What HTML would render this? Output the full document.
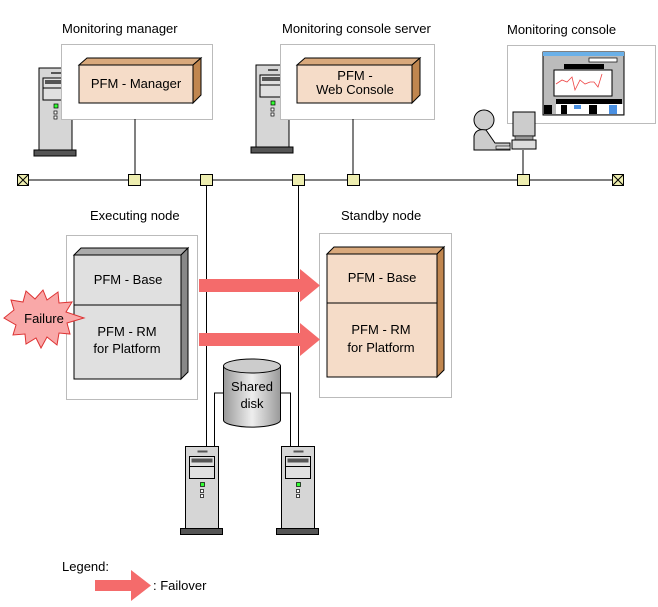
<!DOCTYPE html>
<html><head><meta charset="utf-8"><style>
html,body{margin:0;padding:0;background:#fff;width:658px;height:607px;overflow:hidden}
text{font-family:"Liberation Sans",sans-serif;font-size:13px;fill:#000}
</style></head><body>
<svg width="658" height="607" viewBox="0 0 658 607" xmlns="http://www.w3.org/2000/svg">
<defs>
<g id="tower">
<rect x="0" y="0" width="33" height="82" fill="#d6d6d6" stroke="#000"/>
<line x1="12" y1="5" x2="22" y2="5" stroke="#555" stroke-width="2"/>
<rect x="4" y="10" width="25" height="22" fill="#e0e0e0" stroke="#000"/>
<rect x="6" y="12" width="21" height="4" fill="#555"/>
<line x1="4" y1="20" x2="29" y2="20" stroke="#000"/>
<rect x="15" y="36" width="4" height="4" fill="#3f3" stroke="#000" stroke-width="0.7"/>
<rect x="15" y="43" width="3" height="3" fill="#fff" stroke="#000" stroke-width="0.7"/>
<rect x="15" y="48" width="3" height="3" fill="#fff" stroke="#000" stroke-width="0.7"/>
<rect x="-5" y="82" width="42" height="6" fill="#555" stroke="#000"/>
</g>
<linearGradient id="cyl" x1="0" x2="1"><stop offset="0" stop-color="#999"/><stop offset="0.5" stop-color="#eee"/><stop offset="1" stop-color="#999"/></linearGradient>
</defs>

<!-- titles -->
<text x="62" y="33">Monitoring manager</text>
<text x="282" y="33">Monitoring console server</text>
<text x="507" y="34">Monitoring console</text>

<!-- towers top -->
<use href="#tower" x="39" y="68"/>
<use href="#tower" x="256" y="65"/>

<!-- manager box -->
<rect x="61.5" y="44.5" width="151" height="75" fill="#fff" stroke="#bbb"/>
<polygon points="79,65 87,58 201,58 193,65" fill="#d9a97c" stroke="#000"/>
<polygon points="193,65 201,58 201,95 193,103" fill="#c0864f" stroke="#000"/>
<rect x="79" y="65" width="114" height="38" fill="#f5dcc8" stroke="#000"/>
<text x="136" y="88" text-anchor="middle">PFM - Manager</text>

<!-- console server box -->
<rect x="280.5" y="44.5" width="154" height="75" fill="#fff" stroke="#bbb"/>
<polygon points="297,65 305,58 420,58 412,65" fill="#d9a97c" stroke="#000"/>
<polygon points="412,65 420,58 420,95 412,103" fill="#c0864f" stroke="#000"/>
<rect x="297" y="65" width="115" height="38" fill="#f5dcc8" stroke="#000"/>
<text x="355" y="80" text-anchor="middle">PFM -</text>
<text x="355" y="94" text-anchor="middle">Web Console</text>

<!-- monitoring console box -->
<rect x="507.5" y="45.5" width="148" height="78" fill="#fff" stroke="#bbb"/>
<rect x="543" y="52" width="81" height="63" fill="#bbb" stroke="#000"/>
<rect x="543" y="52" width="81" height="4" fill="#6ab0e8"/>
<rect x="564" y="64" width="40" height="5" fill="#000"/>
<rect x="589" y="58" width="28" height="4" fill="#fff" stroke="#000" stroke-width="0.7"/>
<rect x="554" y="70" width="58" height="26" fill="#fff" stroke="#000"/>
<polyline points="556,84 562,80 567,82 572,77 575,90 580,80 585,84 590,82 594,82 598,87 602,74" fill="none" stroke="#e44" stroke-width="0.8"/>
<rect x="556" y="99" width="66" height="5" fill="#000"/>
<rect x="556" y="104" width="67" height="10" fill="#fff"/>
<rect x="544" y="105" width="8" height="9" fill="#000"/>
<rect x="561" y="105" width="6" height="9" fill="#000"/>
<rect x="589" y="105" width="8" height="9" fill="#000"/>
<rect x="574" y="105" width="7" height="4" fill="#4a90e2"/>
<rect x="609" y="105" width="8" height="9" fill="#4a90e2"/>
<!-- person -->
<circle cx="484" cy="120" r="10" fill="#ccc" stroke="#000"/>
<path d="M474,150 L474,136 Q476,128 486,130 L495,143 L510,143 L510,150 Z" fill="#ccc" stroke="#000"/>
<!-- computer -->
<rect x="513" y="112" width="22" height="24" fill="#ccc" stroke="#000"/>
<rect x="515" y="136" width="18" height="4" fill="#999" stroke="#000" stroke-width="0.6"/>
<rect x="512" y="140" width="24" height="9" fill="#ddd" stroke="#000"/>
<rect x="496" y="146" width="14" height="3" fill="#ddd" stroke="#000" stroke-width="0.6"/>

<!-- network -->
<g stroke="#000" stroke-width="1">
<line x1="22" y1="180" x2="618" y2="180"/>
<line x1="135" y1="119" x2="135" y2="180"/>
<line x1="353" y1="119" x2="353" y2="180"/>
<line x1="523" y1="150" x2="523" y2="180"/>
<line x1="206.5" y1="180" x2="206.5" y2="447"/>
<line x1="298.5" y1="180" x2="298.5" y2="447"/>
<polyline points="223,393 214.5,393 214.5,447" fill="none"/>
<polyline points="280,393 290.5,393 290.5,447" fill="none"/>
</g>
<g fill="#eeeeb0" stroke="#000">
<rect x="17.5" y="174.5" width="11" height="11"/>
<rect x="128.5" y="174.5" width="12" height="11"/>
<rect x="200.5" y="174.5" width="12" height="11"/>
<rect x="292.5" y="174.5" width="12" height="11"/>
<rect x="347.5" y="174.5" width="12" height="11"/>
<rect x="517.5" y="174.5" width="12" height="11"/>
<rect x="612.5" y="174.5" width="11" height="11"/>
</g>
<path d="M17.5,174.5 L28.5,185.5 M28.5,174.5 L17.5,185.5 M612.5,174.5 L623.5,185.5 M623.5,174.5 L612.5,185.5" stroke="#000"/>

<!-- node labels -->
<text x="90" y="220">Executing node</text>
<text x="341" y="220">Standby node</text>

<!-- executing node -->
<rect x="66.5" y="235.5" width="131" height="164" fill="#fff" stroke="#bbb"/>
<polygon points="74,255 81,248 188,248 181,255" fill="#aaa" stroke="#000"/>
<polygon points="181,255 188,248 188,372 181,379" fill="#888" stroke="#000"/>
<rect x="74" y="255" width="107" height="124" fill="#e0e0e0" stroke="#000"/>
<line x1="74" y1="305" x2="181" y2="305" stroke="#000"/>
<text x="128" y="284" text-anchor="middle">PFM - Base</text>
<text x="127" y="336" text-anchor="middle">PFM - RM</text>
<text x="127" y="353" text-anchor="middle">for Platform</text>

<!-- standby node -->
<rect x="319.5" y="233.5" width="132" height="164" fill="#fff" stroke="#bbb"/>
<polygon points="327,254 334,247 444,247 437,254" fill="#d9a97c" stroke="#000"/>
<polygon points="437,254 444,247 444,370 437,377" fill="#c0864f" stroke="#000"/>
<rect x="327" y="254" width="110" height="123" fill="#f5dcc8" stroke="#000"/>
<line x1="327" y1="303" x2="437" y2="303" stroke="#000"/>
<text x="382" y="282" text-anchor="middle">PFM - Base</text>
<text x="381" y="334" text-anchor="middle">PFM - RM</text>
<text x="381" y="352" text-anchor="middle">for Platform</text>

<!-- failover arrows -->
<polygon points="199,279 300,279 300,269 320,285.5 300,302 300,292 199,292" fill="#f46b6b"/>
<polygon points="199,333 300,333 300,323 320,339.5 300,356 300,346 199,346" fill="#f46b6b"/>

<!-- failure star -->
<polygon points="4,318 14,310 11,300 23,302 26,291 35,299 43,290 47,300 58,292 59,303 72,302 66,312 84,318 67,323 70,334 59,333 57,345 47,337 41,348 36,338 26,344 25,334 13,335 16,325" fill="#f9a8a8" stroke="#d33"/>
<text x="44" y="323" text-anchor="middle">Failure</text>

<!-- shared disk -->
<path d="M223.5,366 L223.5,420 A28,7 0 0 0 280.5,420 L280.5,366" fill="url(#cyl)" stroke="#000"/>
<ellipse cx="252" cy="366" rx="28.5" ry="7" fill="#ccc" stroke="#000"/>
<text x="252" y="391" text-anchor="middle">Shared</text>
<text x="252" y="408" text-anchor="middle">disk</text>

<!-- lower towers -->
<use href="#tower" x="185.5" y="446.5"/>
<use href="#tower" x="281.5" y="446.5"/>

<!-- legend -->
<text x="62" y="571">Legend:</text>
<polygon points="95,580 131,580 131,570 151,585.5 131,601 131,591 95,591" fill="#f46b6b"/>
<text x="153" y="590">: Failover</text>
</svg>
</body></html>
